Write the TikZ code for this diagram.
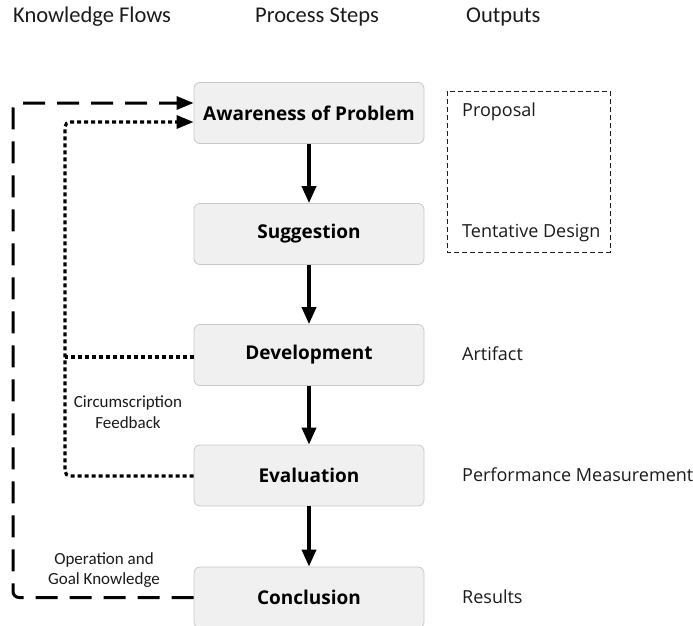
\documentclass[tikz,border=0pt]{standalone}
\usepackage{fontspec}
\setmainfont{Open Sans}
\newfontfamily\narrowfont{Carlito}
\usetikzlibrary{arrows.meta}
\definecolor{boxfill}{HTML}{F0F0F0}
\definecolor{boxline}{HTML}{C8C8C8}
\definecolor{ink}{HTML}{1A1A1A}
\tikzset{
  stepbox/.style={draw=boxline, fill=boxfill, line width=0.8pt, rounded corners=6pt,
    minimum width=230pt, minimum height=61pt, inner sep=0pt,
    font=\fontsize{19}{21}\selectfont\bfseries, text=black},
  heading/.style={anchor=west, inner sep=0pt, font=\narrowfont\fontsize{22.5}{24}\selectfont, text=ink},
  outtext/.style={anchor=west, inner sep=0pt, font=\fontsize{18}{20}\selectfont, text=ink},
  flowlabel/.style={align=center, inner sep=0pt, font=\narrowfont\fontsize{17}{20}\selectfont, text=ink},
  flowarrow/.style={line width=3.6pt, -{Triangle[length=17pt,width=14pt]}},
  feedback/.style={line width=3.2pt, dash pattern=on 4pt off 3pt},
  knowledge/.style={line width=3pt, dash pattern=on 22pt off 12pt},
  loophead/.style={-{Triangle[length=17pt,width=13pt]}},
}
\begin{document}
\begin{tikzpicture}[x=1pt,y=-1pt]
\useasboundingbox (0,0) rectangle (693,626);

% column headings
\node[heading] (hk) at (13,17) {Knowledge Flows};
\node[heading] (hp) at (255,17) {Process Steps};
\node[heading] (ho) at (466,17) {Outputs};

% process steps
\node[stepbox] (aw) at (309,113) {Awareness of Problem};
\node[stepbox] (su) at (309,234) {Suggestion};
\node[stepbox] (de) at (309,355) {Development};
\node[stepbox] (ev) at (309,475.5) {Evaluation};
\node[stepbox] (co) at (309,597.5) {Conclusion};

\foreach \a/\b in {aw/su, su/de, de/ev, ev/co}
  \draw[flowarrow] (\a.south) -- (\b.north);

% outputs
\node[outtext] (op) at (462,112) {Proposal};
\node[outtext] (ot) at (462,233) {Tentative Design};
\node[outtext] (oa) at (462,354) {Artifact};
\node[outtext] (om) at (462,475) {Performance Measurement};
\node[outtext] (or) at (462,597) {Results};
\draw[line width=1pt, dash pattern=on 5pt off 3pt, draw=ink] (447,91) rectangle (610,252);

% circumscription feedback (dotted)
\coordinate (fb) at (65,357);
\coordinate (fe) at (65,476);
\coordinate (ft) at (65,122);
\draw[feedback] (de.west |- fb) -- (fb);
\draw[feedback, loophead, rounded corners=5pt] (ev.west |- fe) -- (fe) -- (ft) -- (aw.west |- ft);
\node[flowlabel] (lcf) at (128,403) {Circumscription};
\node[flowlabel] (lcf2) at (128,423) {Feedback};

% operation and goal knowledge (dashed)
\coordinate (kb) at (13,597.5);
\coordinate (kt) at (13,103);
\draw[knowledge, loophead, rounded corners=6pt] (co.west) -- (kb) -- (kt) -- (aw.west |- kt);
\node[flowlabel] (log) at (104,560) {Operation and};
\node[flowlabel] (log2) at (104,580) {Goal Knowledge};
\end{tikzpicture}
\end{document}
